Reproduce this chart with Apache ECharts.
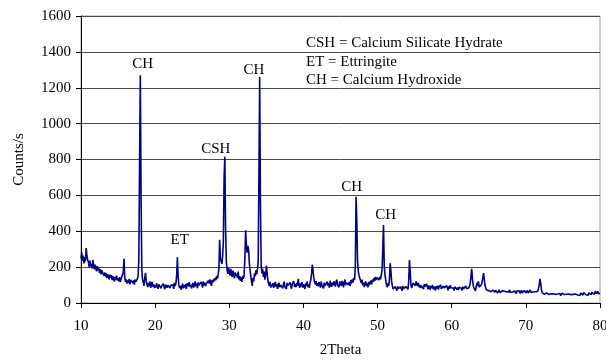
<!DOCTYPE html>
<html>
<head>
<meta charset="utf-8">
<style>html,body{margin:0;padding:0;background:#fff;}#c{width:606px;height:361px;}</style>
<script src="https://cdn.jsdelivr.net/npm/echarts@6/dist/echarts.min.js"></script>
</head>
<body>
<div id="c"></div>
<script>
// 2Theta start and step of the scan
const thetaStart = 10;
const thetaStep = 0.1;
// Counts/s, one row per degree (10.0 .. 79.9), plus final 80.0
const counts = [
  248, 282, 236, 265, 221, 254, 232, 306, 262, 241,
  228, 200, 236, 205, 218, 193, 240, 209, 187, 214,
  198, 176, 205, 182, 194, 168, 189, 160, 183, 171,
  178, 152, 171, 147, 166, 139, 160, 150, 132, 158,
  141, 156, 128, 149, 135, 120, 146, 131, 152, 125,
  139, 121, 144, 117, 133, 126, 141, 172, 246, 143,
  118, 131, 108, 126, 112, 135, 104, 128, 117, 139,
  112, 126, 103, 131, 119, 108, 134, 152, 238, 780,
  1270, 610, 185, 132, 115, 96, 142, 168, 121, 104,
  88, 112, 95, 120, 84, 106, 118, 91, 104, 83,
  101, 86, 110, 93, 79, 104, 97, 115, 82, 96,
  89, 108, 92, 77, 102, 113, 85, 99, 91, 110,
  84, 97, 106, 88, 101, 79, 112, 94, 108, 152,
  255, 148, 101, 83, 96, 74, 91, 108, 82, 99,
  87, 105, 78, 110, 92, 84, 116, 90, 103, 81,
  97, 112, 86, 104, 120, 92, 108, 83, 115, 98,
  109, 91, 118, 102, 86, 121, 99, 113, 94, 107,
  117, 100, 125, 108, 131, 112, 96, 128, 115, 134,
  122, 140, 128, 151, 136, 158, 190, 352, 250, 232,
  218, 260, 340, 700, 815, 420, 230, 185, 162, 195,
  176, 152, 190, 163, 145, 181, 158, 137, 170, 149,
  162, 140, 175, 131, 150, 124, 143, 118, 152, 135,
  158, 245, 405, 330, 280, 318, 300, 225, 182, 150,
  118, 96, 140, 122, 165, 150, 182, 160, 190, 235,
  720, 1260, 560, 210, 165, 190, 145, 175, 130, 155,
  208, 170, 128, 110, 95, 118, 86, 104, 92, 111,
  84, 102, 118, 91, 107, 79, 96, 113, 88, 101,
  95, 110, 82, 104, 119, 90, 101, 78, 112, 97,
  103, 86, 115, 94, 80, 108, 99, 121, 90, 105,
  88, 112, 96, 135, 101, 84, 109, 93, 117, 86,
  104, 92, 78, 110, 95, 121, 89, 103, 84, 115,
  128, 165, 214, 178, 140, 118, 104, 122, 96, 110,
  93, 117, 102, 86, 120, 98, 108, 81, 113, 95,
  106, 88, 119, 97, 111, 85, 124, 102, 90, 114,
  99, 121, 105, 92, 117, 130, 101, 112, 88, 120,
  108, 95, 123, 110, 87, 116, 131, 99, 114, 105,
  122, 101, 118, 94, 127, 109, 133, 115, 140, 128,
  205, 592, 455, 235, 178, 152, 140, 126, 112, 130,
  98, 114, 89, 106, 121, 95, 110, 87, 118, 101,
  112, 125, 104, 130, 118, 138, 122, 145, 128, 142,
  135, 150, 128, 146, 132, 155, 180, 300, 435, 210,
  160, 128, 102, 88, 110, 96, 130, 222, 180, 118,
  95, 78, 88, 72, 91, 84, 69, 93, 80, 87,
  74, 90, 82, 68, 95, 79, 86, 71, 92, 83,
  88, 76, 122, 240, 176, 102, 84, 95, 112, 104,
  118, 96, 120, 108, 94, 112, 88, 101, 83, 97,
  86, 99, 78, 104, 91, 82, 107, 93, 76, 98,
  89, 74, 96, 83, 101, 77, 92, 86, 70, 94,
  81, 97, 75, 90, 84, 102, 79, 88, 72, 95,
  83, 92, 77, 98, 86, 71, 93, 80, 99, 85,
  78, 94, 84, 69, 90, 81, 96, 75, 87, 72,
  88, 77, 93, 82, 70, 91, 79, 86, 74, 95,
  81, 72, 90, 84, 96, 110, 150, 190, 132, 98,
  85, 76, 68, 90, 112, 96, 121, 88, 80, 95,
  102, 118, 142, 167, 128, 96, 84, 72, 66, 75,
  68, 58, 74, 63, 70, 55, 72, 64, 59, 71,
  60, 69, 56, 66, 73, 58, 64, 52, 68, 61,
  57, 66, 71, 59, 63, 54, 69, 62, 74, 58,
  65, 55, 61, 70, 57, 67, 60, 53, 66, 72,
  59, 68, 54, 63, 71, 56, 65, 58, 69, 62,
  57, 64, 70, 55, 66, 60, 73, 58, 63, 67,
  61, 56, 68, 63, 58, 70, 65, 80, 100, 134,
  112, 75, 58, 52, 60, 48, 55, 50, 57, 46,
  53, 47, 56, 44, 51, 58, 45, 52, 49, 55,
  48, 54, 42, 50, 57, 46, 53, 41, 49, 55,
  44, 51, 47, 56, 40, 49, 53, 45, 50, 43,
  52, 46, 55, 41, 48, 54, 44, 50, 47, 53,
  45, 53, 49, 42, 56, 48, 51, 44, 58, 47,
  52, 46, 55, 50, 43, 57, 49, 54, 46, 60,
  53, 62, 48, 58, 66, 51, 57, 64, 52, 59,
  55
];
// Peak annotations: label, 2Theta, Counts/s position of label
const peakLabels = ['CH', 'ET', 'CSH', 'CH', 'CH', 'CH'];
const peakX = [18.31, 23.31, 28.18, 33.31, 46.49, 51.08];
const peakY = [1332, 351, 858, 1299, 648, 491];
// Key text
const keyLines = ['CSH = Calcium Silicate Hydrate', 'ET = Ettringite', 'CH = Calcium Hydroxide'];

const data = counts.map((v, i) => [+(thetaStart + i * thetaStep).toFixed(1), v]);
const FONT = '"Liberation Serif", "Times New Roman", serif';

const chart = echarts.init(document.getElementById('c'), null, { renderer: 'canvas' });
chart.setOption({
  animation: false,
  backgroundColor: '#fff',
  grid: { left: 81, right: 6, top: 16, bottom: 58, show: true, borderColor: '#a0a0a0', borderWidth: 1,
          containLabel: false, outerBoundsMode: 'none' },
  xAxis: {
    type: 'value', min: 10, max: 80, interval: 10,
    name: '2Theta', nameLocation: 'middle', nameGap: 40,
    nameTextStyle: { fontFamily: FONT, fontSize: 15, color: '#000' },
    axisLine: { show: true, onZero: false, lineStyle: { color: '#000', width: 1 } },
    axisTick: { show: true, length: 5, lineStyle: { color: '#000' } },
    axisLabel: { fontFamily: FONT, fontSize: 15, color: '#000', margin: 16, formatter: v => String(v) },
    splitLine: { show: false }
  },
  yAxis: {
    type: 'value', min: 0, max: 1600, interval: 200,
    name: 'Counts/s', nameLocation: 'middle', nameGap: 54,
    nameTextStyle: { fontFamily: FONT, fontSize: 15, color: '#000' },
    axisLine: { show: true, lineStyle: { color: '#000', width: 1 } },
    axisTick: { show: true, length: 5, lineStyle: { color: '#000' } },
    axisLabel: { fontFamily: FONT, fontSize: 15, color: '#000', margin: 10, formatter: v => String(v) },
    splitLine: { show: true, lineStyle: { color: '#4a4a4a', width: 1 } }
  },
  series: [{
    type: 'line',
    data: data,
    showSymbol: false,
    symbol: 'none',
    lineStyle: { color: '#000080', width: 1.6 },
    itemStyle: { color: '#000080' },
    markPoint: {
      symbol: 'circle', symbolSize: 0, silent: true,
      label: {
        show: true, position: 'inside', formatter: p => p.name,
        fontFamily: FONT, fontSize: 15, color: '#000'
      },
      data: peakLabels.map((n, i) => ({ name: n, coord: [peakX[i], peakY[i]] }))
    }
  }],
  graphic: keyLines.map((t, i) => ({
    type: 'text', left: 306, top: 36 + i * 18.5, z: 10,
    style: { text: t, font: '15px ' + FONT, fill: '#000' }
  }))
});
</script>
</body>
</html>
